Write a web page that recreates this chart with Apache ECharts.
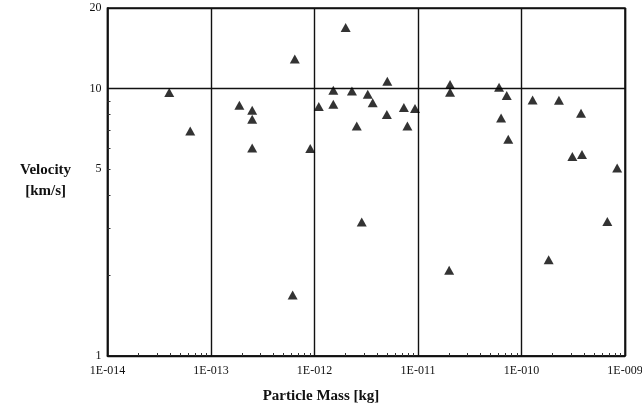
<!DOCTYPE html>
<html>
<head>
<meta charset="utf-8">
<script src="https://cdn.jsdelivr.net/npm/echarts@6/dist/echarts.min.js"></script>
<style>
  html, body { margin: 0; padding: 0; background: #fff; }
  #chart { width: 642px; height: 413px; }
</style>
</head>
<body>
<div id="chart"></div>
<script>
// particle mass [kg] and velocity [km/s]
var massKg = [
  3.95e-14, 6.3e-14, 1.88e-13, 2.5e-13, 2.5e-13, 2.5e-13, 6.45e-13, 9.1e-13,
  1.1e-12, 1.52e-12, 1.52e-12, 2.0e-12, 2.3e-12, 2.56e-12, 3.27e-12, 3.65e-12,
  5.05e-12, 5.0e-12, 7.3e-12, 7.9e-12, 9.35e-12, 2.04e-11, 2.04e-11, 6.07e-11,
  7.2e-11, 6.35e-11, 7.45e-11, 1.28e-10, 2.3e-10, 3.76e-10, 3.1e-10, 3.84e-10,
  8.4e-10, 6.15e-13, 2.86e-12, 2.0e-11, 1.83e-10, 6.75e-10
];
var velocity = [
  9.66, 6.94, 8.66, 8.29, 7.68, 5.99, 12.9, 5.97,
  8.56, 9.85, 8.73, 16.9, 9.79, 7.25, 9.52, 8.84,
  10.65, 7.99, 8.49, 7.25, 8.42, 10.35, 9.69, 10.11,
  9.42, 7.76, 6.46, 9.06, 9.04, 8.08, 5.57, 5.67,
  5.05, 1.69, 3.17, 2.09, 2.29, 3.18
];

var xTickLabels = ['1E-014', '1E-013', '1E-012', '1E-011', '1E-010', '1E-009'];
var yTickValues = [1, 5, 10, 20];
var minorSteps = [2, 3, 4, 5, 6, 7, 8, 9];

var xMinor = [];
for (var d = -14; d < -9; d++) {
  minorSteps.forEach(function (m) { xMinor.push(m * Math.pow(10, d)); });
}

var points = massKg.map(function (m, i) { return [m, velocity[i]]; });

var serif = '"Liberation Serif", "DejaVu Serif", serif';
var ink = '#111';

var chart = echarts.init(document.getElementById('chart'));

var option = {
  animation: false,
  grid: {
    left: 107.5, right: 17, top: 8, bottom: 57,
    outerBoundsMode: 'none', containLabel: false,
    show: true, borderColor: ink, borderWidth: 1.5
  },
  xAxis: [
    {
      type: 'log', logBase: 10, min: 1e-14, max: 1e-9,
      axisLine: { lineStyle: { color: ink, width: 1.6 } },
      axisTick: { show: false },
      splitLine: { show: true, lineStyle: { color: ink, width: 1.4 } },
      axisLabel: {
        margin: 9, color: ink, fontFamily: serif, fontSize: 12,
        formatter: function (v) {
          return xTickLabels[Math.round(Math.log10(v)) + 14];
        }
      }
    },
    {
      type: 'log', logBase: 10, min: 1e-14, max: 1e-9, position: 'bottom',
      axisLine: { show: false },
      axisLabel: { show: false },
      splitLine: { show: false },
      axisTick: { inside: true, length: 3, customValues: xMinor, lineStyle: { color: '#333' } }
    }
  ],
  yAxis: [
    {
      type: 'log', logBase: 10, min: 1, max: 20,
      axisLine: { show: true, lineStyle: { color: ink, width: 1.6 } },
      axisTick: { show: false },
      splitLine: { show: true, lineStyle: { color: ink, width: 1.4 } },
      axisLabel: {
        margin: 6, color: ink, fontFamily: serif, fontSize: 12,
        customValues: yTickValues
      }
    },
    {
      type: 'log', logBase: 10, min: 1, max: 20, position: 'left',
      axisLine: { show: false },
      axisLabel: { show: false },
      splitLine: { show: false },
      axisTick: { inside: true, length: 3, customValues: minorSteps, lineStyle: { color: '#333' } }
    }
  ],
  graphic: [
    {
      type: 'text', left: 20, top: 160,
      style: {
        text: 'Velocity\n[km/s]', fill: ink, font: 'bold 15px ' + serif,
        textAlign: 'center', lineHeight: 21, x: 27
      }
    },
    {
      type: 'text', left: 'center', top: 389,
      style: { text: 'Particle Mass [kg]', fill: ink, font: 'bold 15px ' + serif },
      x: 53
    }
  ],
  series: [
    {
      type: 'scatter',
      xAxisIndex: 0, yAxisIndex: 0,
      symbol: 'triangle', symbolSize: [10, 9],
      itemStyle: { color: '#000' },
      data: points
    }
  ]
};

chart.setOption(option);
</script>
</body>
</html>
